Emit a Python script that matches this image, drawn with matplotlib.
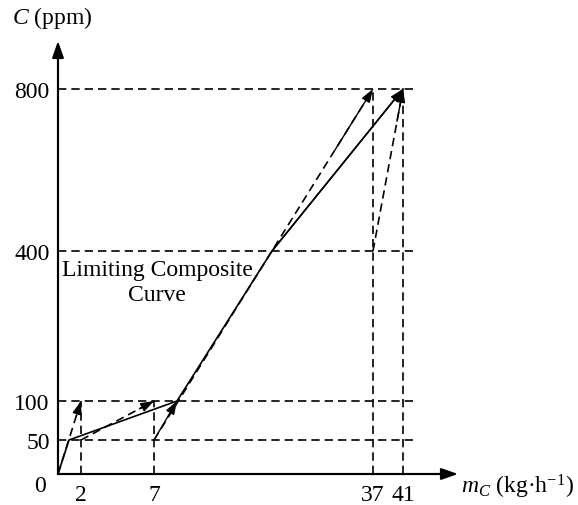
import numpy as np
import matplotlib
matplotlib.use("Agg")
import matplotlib.pyplot as plt

plt.rcParams["font.family"] = ["Liberation Serif", "DejaVu Serif"]
plt.rcParams["mathtext.fontset"] = "custom"
plt.rcParams["mathtext.rm"] = "Liberation Serif"
plt.rcParams["mathtext.it"] = "Liberation Serif:italic"

# ---- data -------------------------------------------------------------
mass_ticks = [2, 7, 37, 41]              # kg/h
conc_ticks = [50, 100, 400, 800]         # ppm

# limiting composite curve
composite_mass = [0, 1, 9, 21, 41]
composite_conc = [0, 50, 100, 400, 800]

# individual operations: inlet / outlet concentration and mass load
op_cin = [0, 50, 50, 400]
op_cout = [100, 100, 800, 800]
op_load = [2, 5, 30, 4]

# ---- schematic (piecewise linear) axis scales -------------------------
W, H = 578, 506
x_break = [0, 1, 2, 7, 9, 21, 37, 41]
x_pix = [58, 69, 81, 154, 177, 272, 373, 403]
y_break = [0, 50, 100, 400, 800]
y_pix = [H - 475, H - 441, H - 402, H - 252, H - 90]


def piecewise(d, p):
    d = np.asarray(d, float)
    p = np.asarray(p, float)

    def interp(v, a, b):
        v = np.asarray(v, float)
        out = np.interp(v, a, b)
        out = np.where(v < a[0], b[0] + (v - a[0]) * (b[1] - b[0]) / (a[1] - a[0]), out)
        out = np.where(v > a[-1], b[-1] + (v - a[-1]) * (b[-1] - b[-2]) / (a[-1] - a[-2]), out)
        return out

    return (lambda v: interp(v, d, p)), (lambda v: interp(v, p, d))


xf, xi = piecewise(x_break, x_pix)
yf, yi = piecewise(y_break, y_pix)

fig = plt.figure(figsize=(W / 100, H / 100), dpi=100)
ax = fig.add_axes([0, 0, 1, 1])
ax.set_xscale("function", functions=(xf, xi))
ax.set_yscale("function", functions=(yf, yi))
ax.set_xlim(float(xi(0)), float(xi(W)))
ax.set_ylim(float(yi(0)), float(yi(H)))
ax.patch.set_alpha(0)

x_tip = float(xi(458))
y_tip = float(yi(H - 42))
x_grid_end = float(xi(418))

FS = 17

# axes with arrows
for s in ["top", "right"]:
    ax.spines[s].set_visible(False)
ax.spines["left"].set_position(("data", 0))
ax.spines["bottom"].set_position(("data", 0))
ax.spines["left"].set_bounds(0, y_tip * 0.97)
ax.spines["bottom"].set_bounds(0, x_tip * 0.97)
for s in ["left", "bottom"]:
    ax.spines[s].set_linewidth(1.5)
arrow_kw = dict(arrowstyle="-|>,head_length=1.0,head_width=0.35", color="black",
                lw=1.5, shrinkA=0, shrinkB=0, mutation_scale=10)
ax.annotate("", xy=(x_tip, 0), xytext=(0, 0), arrowprops=arrow_kw)
ax.annotate("", xy=(0, y_tip), xytext=(0, 0), arrowprops=arrow_kw)

ax.set_xticks(mass_ticks)
ax.set_xticklabels([str(v) for v in mass_ticks])
ax.set_yticks(conc_ticks)
ax.set_yticklabels([str(v) for v in conc_ticks])
ax.tick_params(axis="both", length=0, labelsize=FS, colors="black")
ax.tick_params(axis="x", pad=7)
ax.tick_params(axis="y", pad=6)
ax.minorticks_off()
ax.annotate("0", xy=(0, 0), xytext=(-9, -8), textcoords="offset points",
            ha="right", va="center", fontsize=FS)

# dashed guide lines
dash = dict(color="black", lw=1.2, linestyle=(0, (5, 3)))
for c in conc_ticks:
    ax.plot([0, x_grid_end], [c, c], **dash)
for m in mass_ticks:
    top = 100 if m < 10 else 800
    ax.plot([m, m], [0, top], **dash)

# limiting composite curve
ax.plot(composite_mass, composite_conc, color="black", lw=1.2)
head = dict(arrowstyle="-|>,head_length=1.0,head_width=0.35", color="black",
            lw=1.0, shrinkA=0, shrinkB=0, mutation_scale=8)
ax.annotate("", xy=(composite_mass[-1], composite_conc[-1]),
            xytext=(composite_mass[-2], composite_conc[-2]), arrowprops=head)

# individual operation lines
m_start = np.concatenate([[0], np.cumsum(op_load)[:-1]])
m_end = np.cumsum(op_load)
for ms, me, ci, co in zip(m_start, m_end, op_cin, op_cout):
    ax.plot([ms, me], [ci, co], **dash)
    ax.annotate("", xy=(me, co), xytext=(ms + 0.8 * (me - ms), ci + 0.8 * (co - ci)),
                arrowprops=head)
    # arrowhead where the operation crosses 100 ppm on its way up
    if ci < 100 < co:
        mc = ms + (me - ms) * (100 - ci) / (co - ci)
        ax.annotate("", xy=(mc, 100), xytext=(ms, ci), arrowprops=head)

# labels
fig.text(12 / W, 1 - 18 / H, "$C$ (ppm)", fontsize=FS, ha="left", va="center")
fig.text(461 / W, 1 - 487 / H, "$m_C$ (kg·h$^{-1}$)", fontsize=FS, ha="left", va="center")
fig.text(157 / W, 1 - 283 / H, "Limiting Composite\nCurve", fontsize=FS,
         ha="center", va="center", linespacing=1.3)

fig.savefig("out.png", dpi=100)
